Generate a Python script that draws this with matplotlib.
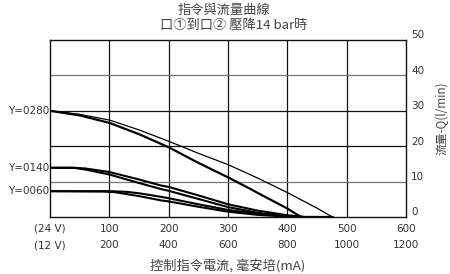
import matplotlib
matplotlib.use("Agg")
import matplotlib.pyplot as plt
from matplotlib import transforms

plt.rcParams['font.family'] = ['Noto Sans CJK TC', 'DejaVu Sans']

# --- data ---
x_ticks = [0, 100, 200, 300, 400, 500, 600]
x_labels_24v = ['(24 V)', '100', '200', '300', '400', '500', '600']
x_labels_12v = ['(12 V)', '200', '400', '600', '800', '1000', '1200']
y_ticks = [0, 10, 20, 30, 40, 50]

y_labels = ['Y=0280', 'Y=0140', 'Y=0060']
y_label_pos = [30, 13.9, 7.3]

# Y=0280 pair
q280_up_x = [0, 50, 100, 150, 200, 250, 300, 350, 400, 450, 476]
q280_up_y = [30, 29.0, 27.4, 24.6, 21.4, 18.0, 14.8, 11.0, 6.9, 2.5, 0]
q280_dn_x = [0, 50, 100, 150, 200, 250, 300, 338, 350, 400, 423, 476]
q280_dn_y = [30, 28.7, 26.6, 23.4, 19.7, 15.3, 11.2, 7.9, 6.8, 2.4, 0, 0]

# Y=0140 pair
q140_up_x = [0, 40, 60, 100, 150, 187, 200, 250, 300, 350, 400, 430, 476]
q140_up_y = [13.9, 13.9, 13.7, 12.7, 10.6, 8.9, 8.5, 6.1, 3.6, 1.8, 0.5, 0, 0]
q140_dn_x = [0, 40, 60, 100, 150, 187, 200, 250, 300, 350, 400, 425]
q140_dn_y = [13.9, 13.9, 13.4, 12.0, 9.6, 7.9, 7.4, 5.1, 2.8, 1.2, 0.2, 0]

# Y=0060 pair
q060_up_x = [0, 100, 130, 150, 187, 200, 250, 300, 350, 400, 420]
q060_up_y = [7.3, 7.3, 7.1, 6.7, 5.7, 5.3, 3.6, 2.0, 0.9, 0.2, 0]
q060_dn_x = [0, 90, 110, 150, 187, 200, 250, 300, 350, 400, 415]
q060_dn_y = [7.3, 7.2, 7.0, 5.9, 4.7, 4.4, 2.9, 1.5, 0.6, 0.1, 0]

fig = plt.figure(figsize=(4.5, 2.74), dpi=100)
ax = fig.add_axes([50 / 450, 1 - 217 / 274, 356 / 450, 177 / 274])
ax.set_xlim(0, 600)
ax.set_ylim(0, 50)

# grid
for xv in x_ticks[1:-1]:
    ax.axvline(xv, color='#111111', lw=0.9, zorder=1)
for yv, col in zip([10, 20, 30, 40], ['#777777', '#111111', '#111111', '#777777']):
    ax.axhline(yv, color=col, lw=0.9, zorder=1)

# curves
ax.plot(q280_up_x, q280_up_y, color='black', lw=0.9, zorder=3)
ax.plot(q280_dn_x, q280_dn_y, color='black', lw=1.6, zorder=3)
ax.plot(q140_up_x, q140_up_y, color='black', lw=1.5, zorder=3)
ax.plot(q140_dn_x, q140_dn_y, color='black', lw=1.5, zorder=3)
ax.plot(q060_up_x, q060_up_y, color='black', lw=1.5, zorder=3)
ax.plot(q060_dn_x, q060_dn_y, color='black', lw=1.5, zorder=3)

for s in ax.spines.values():
    s.set_color('#111111')
    s.set_linewidth(1.0)
ax.set_xticks([])
ax.set_yticks([])

num_font = 'DejaVu Sans'
tick_kw = dict(fontsize=7.5, color='#333333', family=num_font)

# bottom two rows of tick labels
tb = transforms.blended_transform_factory(ax.transData, ax.transAxes)
for xv, l24, l12 in zip(x_ticks, x_labels_24v, x_labels_12v):
    ax.text(xv, -0.065, l24, transform=tb, ha='center', va='center', **tick_kw)
    ax.text(xv, -0.16, l12, transform=tb, ha='center', va='center', **tick_kw)

# right tick labels
tr = transforms.blended_transform_factory(ax.transAxes, ax.transData)
for yv in y_ticks:
    ax.text(1.014, yv + 1.3, str(yv), transform=tr, ha='left', va='center', **tick_kw)

# left curve labels
tl = transforms.blended_transform_factory(ax.transAxes, ax.transData)
for lab, yv in zip(y_labels, y_label_pos):
    ax.text(-0.003, yv, lab, transform=tl, ha='right', va='center', **tick_kw)

ax.text(1.102, 0.56, '流量-Q(l/min)', transform=ax.transAxes, rotation=90,
        ha='center', va='center', fontsize=8.5, color='#444444')
ax.text(0.5, -0.28, '控制指令電流, 毫安培(mA)', transform=ax.transAxes,
        ha='center', va='center', fontsize=9.5, color='#444444')

fig.text(224 / 450, 1 - 10 / 274, '指令與流量曲線', ha='center', va='center',
         fontsize=9.5, color='#444444')
fig.text(234 / 450, 1 - 25 / 274, '口①到口② 壓降14 bar時', ha='center', va='center',
         fontsize=9.5, color='#444444')

fig.savefig('out.png', dpi=100, facecolor='white')
